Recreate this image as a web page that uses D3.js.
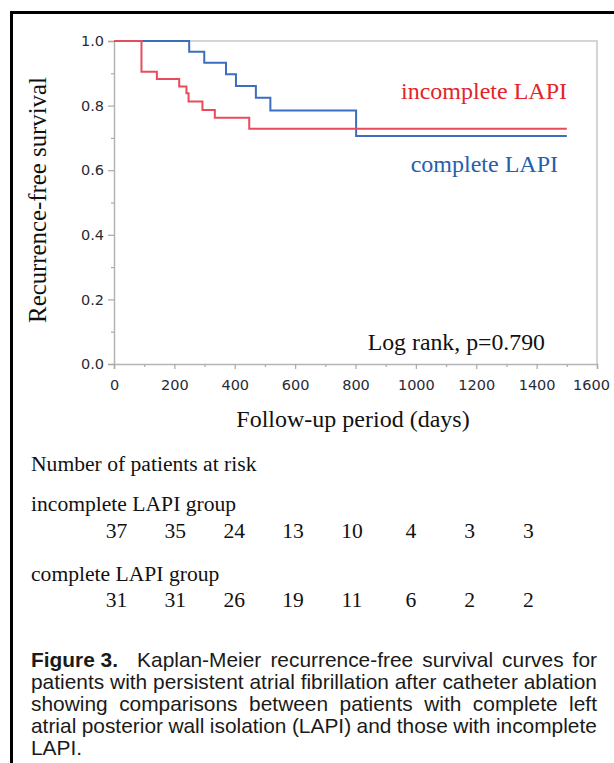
<!DOCTYPE html>
<html><head><meta charset="utf-8">
<script src="https://cdn.jsdelivr.net/npm/d3@7"></script>
<style>body{margin:0;background:#fff} svg{display:block}</style>
</head><body>
<svg id="c" width="614" height="763"></svg>
<script>
// ---- data ----
const incompleteTimes = [0, 91, 142, 216, 240, 247, 293, 334, 448, 1500];
const incompleteSurv  = [1.0, 0.905, 0.882, 0.859, 0.838, 0.813, 0.786, 0.762, 0.728, 0.728];
const completeTimes   = [0, 249, 299, 371, 404, 470, 518, 802, 1500];
const completeSurv    = [1.0, 0.967, 0.933, 0.897, 0.861, 0.824, 0.785, 0.706, 0.706];
const yTickValues = [0, 0.2, 0.4, 0.6, 0.8, 1.0];
const xTickValues = [0, 200, 400, 600, 800, 1000, 1200, 1400, 1600];
const riskTimes = [0, 200, 400, 600, 800, 1000, 1200, 1400];
const incompleteRisk = [37, 35, 24, 13, 10, 4, 3, 3];
const completeRisk   = [31, 31, 26, 19, 11, 6, 2, 2];
const captionLines = [
  ["Figure 3.", "Kaplan-Meier", "recurrence-free", "survival", "curves", "for"],
  ["patients", "with", "persistent", "atrial", "fibrillation", "after", "catheter", "ablation"],
  ["showing", "comparisons", "between", "patients", "with", "complete", "left"],
  ["atrial", "posterior", "wall", "isolation", "(LAPI)", "and", "those", "with", "incomplete"],
  ["LAPI."]
];

const svg = d3.select('#c');
const serif = '"Liberation Serif","Times New Roman",serif';
const tickFont = '"DejaVu Sans",Verdana,sans-serif';

// outer figure frame (left + top)
svg.append('path').attr('d', 'M11.5,763 V12.5 H614')
  .attr('fill', 'none').attr('stroke', '#000').attr('stroke-width', 3);

const x = d3.scaleLinear().domain([0, 1600]).range([114, 597]);
const y = d3.scaleLinear().domain([0, 1]).range([364, 41]);

// plot box top/right
svg.append('path')
  .attr('d', `M${x(0)},${y(1)} H${x(1600)} V${y(0)}`)
  .attr('fill', 'none').attr('stroke', '#c8c8c8').attr('stroke-width', 1.5);

// minor ticks
const minorY = d3.range(1, 10, 2).map(d => d / 10);
const minorX = d3.range(100, 1600, 200);
svg.append('g').attr('transform', `translate(${x(0)},0)`)
  .call(d3.axisLeft(y).tickValues(minorY).tickSize(3).tickFormat(''))
  .call(g => g.select('.domain').remove());
svg.append('g').attr('transform', `translate(0,${y(0)})`)
  .call(d3.axisBottom(x).tickValues(minorX).tickSize(3).tickFormat(''))
  .call(g => g.select('.domain').remove());

// major axes
svg.append('g').attr('transform', `translate(${x(0)},0)`)
  .call(d3.axisLeft(y).tickValues(yTickValues).tickSize(6).tickPadding(4).tickFormat(d3.format('.1f')));
const gx = svg.append('g').attr('transform', `translate(0,${y(0)})`)
  .call(d3.axisBottom(x).tickValues(xTickValues).tickSize(5).tickPadding(11).tickFormat(d3.format('d')));
svg.selectAll('.domain').attr('stroke', '#b4b4b4').attr('stroke-width', 1.5);
svg.selectAll('.tick line').attr('stroke', '#a8a8a8').attr('stroke-width', 1.2);
svg.selectAll('.tick text').attr('fill', '#2a2a35').style('font-family', tickFont).style('font-size', '14.5px');
gx.selectAll('.tick text').filter(d => d === 1600).attr('dx', -6);

// curves
const line = d3.line().curve(d3.curveStepAfter).x(d => x(d[0])).y(d => y(d[1]));
svg.append('path').datum(completeTimes.map((t, i) => [t, completeSurv[i]]))
  .attr('d', line).attr('fill', 'none').attr('stroke', '#3d6dbf').attr('stroke-width', 2);
svg.append('path').datum(incompleteTimes.map((t, i) => [t, incompleteSurv[i]]))
  .attr('d', line).attr('fill', 'none').attr('stroke', '#e84b5b').attr('stroke-width', 2);

// in-plot labels
svg.append('text').attr('x', 567).attr('y', 99).attr('text-anchor', 'end')
  .style('font-family', serif).style('font-size', '24px').attr('fill', '#e3242b').text('incomplete LAPI');
svg.append('text').attr('x', 558).attr('y', 172).attr('text-anchor', 'end')
  .style('font-family', serif).style('font-size', '24px').attr('fill', '#2360b0').text('complete LAPI');
svg.append('text').attr('x', 545).attr('y', 350).attr('text-anchor', 'end')
  .style('font-family', serif).style('font-size', '23.8px').attr('fill', '#111').text('Log rank, p=0.790');

// axis titles
svg.append('text').attr('transform', 'translate(46,200) rotate(-90)')
  .attr('text-anchor', 'middle').style('font-family', serif).style('font-size', '24.8px').attr('fill', '#111')
  .text('Recurrence-free survival');
svg.append('text').attr('x', 353).attr('y', 427).attr('text-anchor', 'middle')
  .style('font-family', serif).style('font-size', '24px').attr('fill', '#111')
  .text('Follow-up period (days)');

// risk table
const rx = d3.scaleLinear().domain([0, 1400]).range([116.5, 528.5]);
const txt = (xx, yy, s, anchor) => svg.append('text').attr('x', xx).attr('y', yy)
  .attr('text-anchor', anchor || 'start').style('font-family', serif).style('font-size', '21.6px').attr('fill', '#111').text(s);
txt(31, 471, 'Number of patients at risk');
txt(31, 511, 'incomplete LAPI group');
riskTimes.forEach((t, i) => txt(rx(t), 538, incompleteRisk[i], 'middle'));
txt(31, 581, 'complete LAPI group');
riskTimes.forEach((t, i) => txt(rx(t), 607, completeRisk[i], 'middle'));

// caption, condensed and justified word by word
const capFont = '"Liberation Sans",Arial,sans-serif';
const capLeft = 31, capRight = 597, capTop = 667, capStep = 22, capSize = 20;
const capG = svg.append('g');
const mk = (w, bold) => capG.append('text')
  .style('font-family', capFont).style('font-size', capSize + 'px')
  .style('font-weight', bold ? 'bold' : 'normal').attr('fill', '#1a1a1a').text(w);
const probe = mk(captionLines[1].join(' '), false);
const sx = (capRight - capLeft) / probe.node().getComputedTextLength();
probe.remove();
const spaceProbe = mk('a a', false), aProbe = mk('aa', false);
const spaceW = (spaceProbe.node().getComputedTextLength() - aProbe.node().getComputedTextLength()) * sx;
spaceProbe.remove(); aProbe.remove();
captionLines.forEach((words, li) => {
  const yy = capTop + li * capStep;
  const nodes = words.map((w, wi) => mk(w, li === 0 && wi === 0));
  const widths = nodes.map(n => n.node().getComputedTextLength() * sx);
  const total = d3.sum(widths);
  const extra = li === 0 ? 10 : 0;
  const last = li === captionLines.length - 1;
  const gap = (last || words.length < 2) ? spaceW : (capRight - capLeft - total - extra) / (words.length - 1);
  let cx = capLeft;
  nodes.forEach((n, i) => {
    n.attr('transform', `translate(${cx},${yy}) scale(${sx},1)`);
    cx += widths[i] + gap + (i === 0 ? extra : 0);
  });
});
</script>
</body></html>
